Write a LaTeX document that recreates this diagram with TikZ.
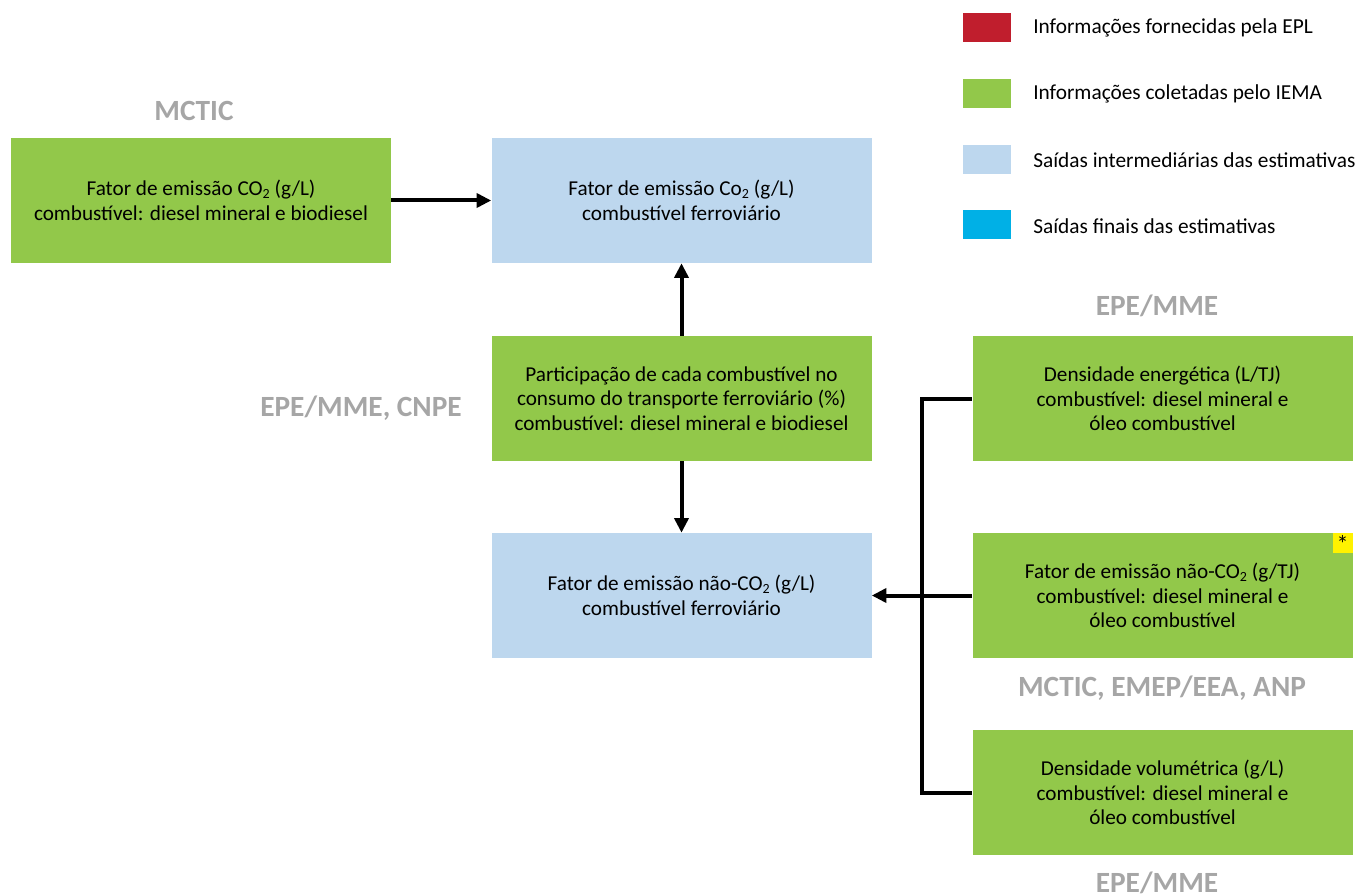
\documentclass[tikz,border=0pt]{standalone}
\usepackage{fontspec}
\setmainfont{Carlito}
\usetikzlibrary{arrows.meta}
\definecolor{cgreen}{HTML}{92C84A}
\definecolor{cblue}{HTML}{BDD7EE}
\definecolor{cred}{HTML}{C01E2D}
\definecolor{ccyan}{HTML}{00B0E6}
\definecolor{cyell}{HTML}{FFF200}
\definecolor{cgray}{HTML}{A6A6A6}
\newcommand{\subtwo}{\raisebox{-0.25ex}{\fontsize{10.5pt}{10.5pt}\selectfont 2}}
\tikzset{
  box/.style={inner sep=0pt, minimum width=285pt, minimum height=93.75pt, align=center,
    font=\fontsize{15.9pt}{18.4pt}\selectfont, text=black},
  greenbox/.style={box, fill=cgreen},
  bluebox/.style={box, fill=cblue},
  srclabel/.style={font=\fontsize{22pt}{24pt}\selectfont\bfseries, text=cgray, inner sep=0pt},
  legsq/.style={inner sep=0pt, minimum width=36pt, minimum height=21.75pt},
  legtxt/.style={font=\fontsize{16pt}{18pt}\selectfont, anchor=west, inner sep=0pt},
  conn/.style={line width=3pt, line join=miter, draw=black},
  arr/.style={conn, -{Triangle[length=11pt, width=10.5pt]}},
}
\begin{document}
\begin{tikzpicture}[x=0.75pt, y=-0.75pt]
\useasboundingbox (0,0) rectangle (1357,895);
% legend
\node[legsq, fill=cred] (l1) at (987,27.5) {};
\node[legsq, fill=cgreen] (l2) at (987,93.5) {};
\node[legsq, fill=cblue] (l3) at (987,159.5) {};
\node[legsq, fill=ccyan] (l4) at (987,225) {};
\node[legtxt] (t1) at (1033,28) {Informações fornecidas pela EPL};
\node[legtxt] (t2) at (1033,94) {Informações coletadas pelo IEMA};
\node[legtxt] (t3) at (1033,160) {Saídas intermediárias das estimativas};
\node[legtxt] (t4) at (1033,226) {Saídas finais das estimativas};
% boxes
\node[greenbox] (mctic) at (201,200.5) {Fator de emissão CO\subtwo{} (g/L)\\combustível: diesel mineral e biodiesel};
\node[bluebox] (fco2) at (681.5,200.5) {Fator de emissão Co\subtwo{} (g/L)\\combustível ferroviário};
\node[greenbox] (part) at (681.5,398.5) {Participação de cada combustível no\\consumo do transporte ferroviário (\%)\\combustível: diesel mineral e biodiesel};
\node[bluebox] (nco2) at (681.5,595.5) {Fator de emissão não-CO\subtwo{} (g/L)\\combustível ferroviário};
\node[greenbox] (dens) at (1162.5,398.5) {Densidade energética (L/TJ)\\combustível: diesel mineral e\\óleo combustível};
\node[greenbox] (fenc) at (1162.5,595.5) {Fator de emissão não-CO\subtwo{} (g/TJ)\\combustível: diesel mineral e\\óleo combustível};
\node[greenbox] (vol) at (1162.5,792.5) {Densidade volumétrica (g/L)\\combustível: diesel mineral e\\óleo combustível};
\node[fill=cyell, inner sep=0pt, minimum width=15pt, minimum height=15pt, anchor=north east] (ast) at (fenc.north east) {};
\node[font=\fontsize{18pt}{18pt}\selectfont, inner sep=0pt] (astt) at ([yshift=-1pt]ast.center) {*};
% source labels
\node[srclabel] (s1) at (194,111) {MCTIC};
\node[srclabel] (s2) at (361,408) {EPE/MME, CNPE};
\node[srclabel] (s3) at (1157,306) {EPE/MME};
\node[srclabel] (s4) at (1162,688) {MCTIC, EMEP/EEA, ANP};
\node[srclabel] (s5) at (1157,883) {EPE/MME};
% connectors
\coordinate (jx) at (922,0);
\draw[arr] (mctic.east) -- (fco2.west);
\draw[arr] (part.north) -- (fco2.south);
\draw[arr] (part.south) -- (nco2.north);
\draw[conn] (dens.west) -- (dens.west -| jx) -- (vol.west -| jx) -- (vol.west);
\draw[arr] (fenc.west) -- (nco2.east);
\end{tikzpicture}
\end{document}
